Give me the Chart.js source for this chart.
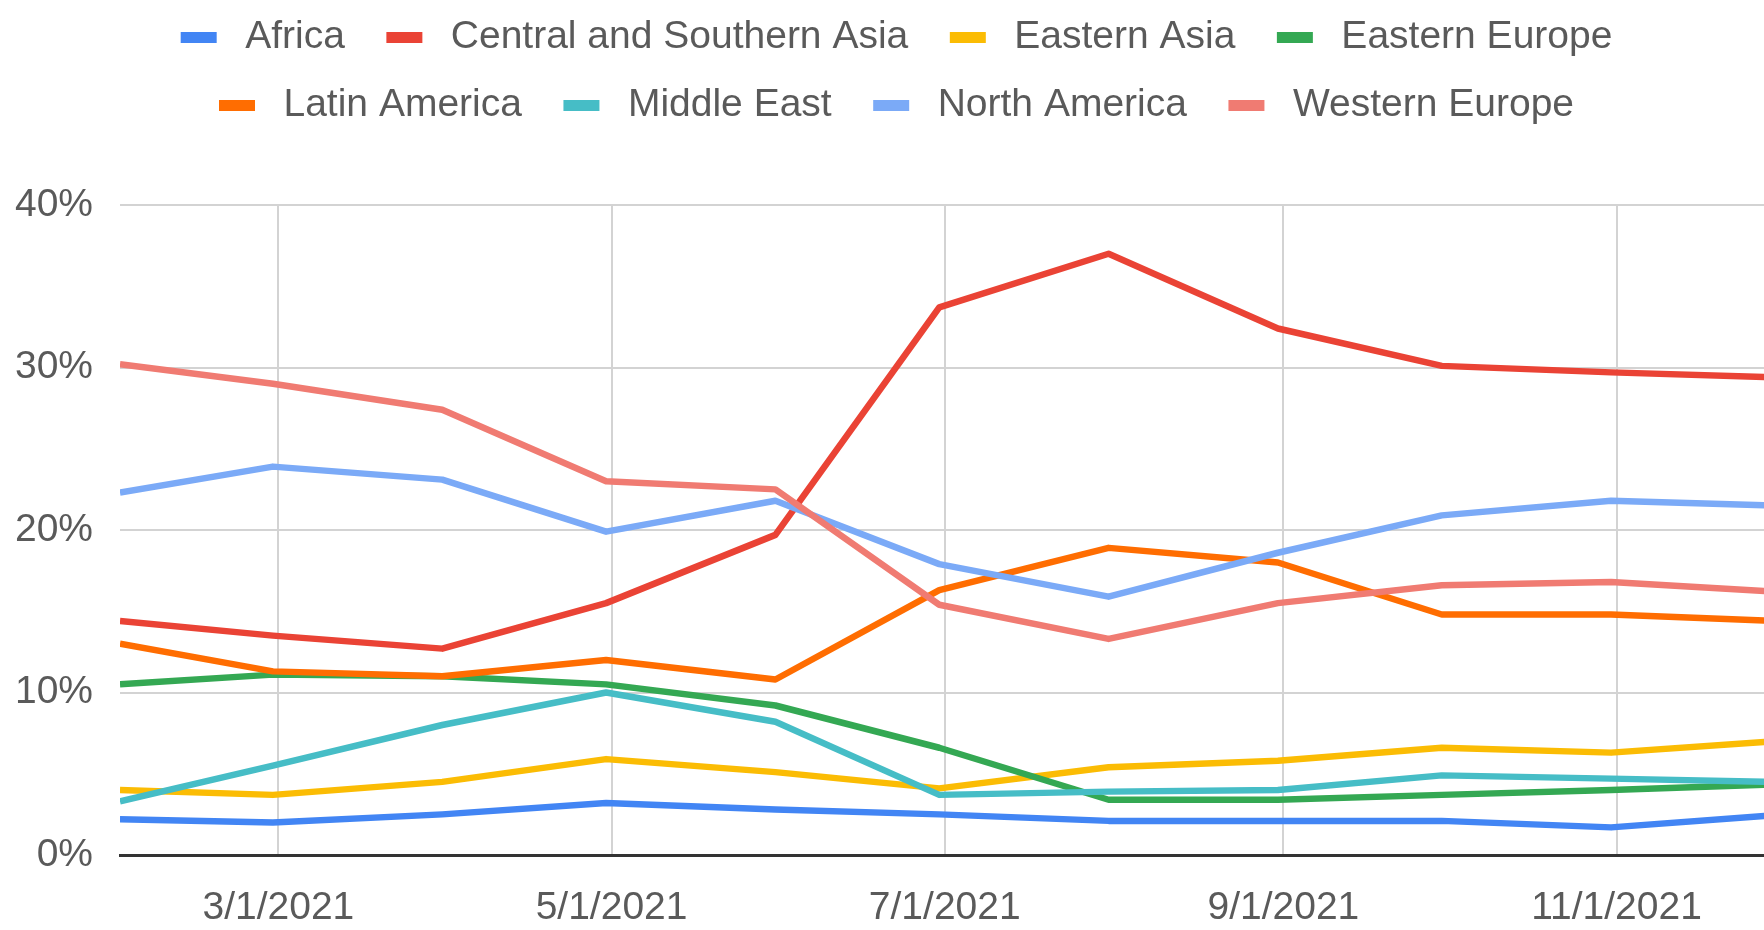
<!DOCTYPE html>
<html>
<head>
<meta charset="utf-8">
<script src="https://cdn.jsdelivr.net/npm/chart.js@4"></script>
<style>
  html, body { margin: 0; padding: 0; background: #fff; overflow: hidden; }
  #wrap { width: 1764px; height: 930px; }
</style>
</head>
<body>
<div id="wrap"><canvas id="regionChart" width="1764" height="930"></canvas></div>
<script>
// Month-end reporting dates (last one sits just past the right edge)
const dates = ['2021-01-31', '2021-02-28', '2021-03-31', '2021-04-30', '2021-05-31', '2021-06-30',
               '2021-07-31', '2021-08-31', '2021-09-30', '2021-10-31', '2021-11-30'];

// Share by region, %
const africa        = [2.2, 2.0, 2.5, 3.2, 2.8, 2.5, 2.1, 2.1, 2.1, 1.7, 2.45];
const centralSouthAsia = [14.4, 13.5, 12.7, 15.5, 19.7, 33.7, 37.0, 32.4, 30.1, 29.7, 29.4];
const easternAsia   = [4.0, 3.7, 4.5, 5.9, 5.1, 4.1, 5.4, 5.8, 6.6, 6.3, 7.0];
const easternEurope = [10.5, 11.1, 11.0, 10.5, 9.2, 6.6, 3.4, 3.4, 3.7, 4.0, 4.35];
const latinAmerica  = [13.0, 11.3, 11.0, 12.0, 10.8, 16.3, 18.9, 18.0, 14.8, 14.8, 14.4];
const middleEast    = [3.3, 5.5, 8.0, 10.0, 8.2, 3.7, 3.9, 4.0, 4.9, 4.7, 4.5];
const northAmerica  = [22.3, 23.9, 23.1, 19.9, 21.8, 17.9, 15.9, 18.6, 20.9, 21.8, 21.5];
const westernEurope = [30.2, 29.0, 27.4, 23.0, 22.5, 15.4, 13.3, 15.5, 16.6, 16.8, 16.2];

// Axis ticks
const xTickDates = ['2021-03-01', '2021-05-01', '2021-07-01', '2021-09-01', '2021-11-01'];
const xMinDate = '2021-01-31';
const xMaxDate = '2021-11-28';
const yTicks = [0, 10, 20, 30, 40];

const toTime = s => Date.parse(s + 'T00:00:00Z');
const fmtDate = v => {
    const d = new Date(v);
    return (d.getUTCMonth() + 1) + '/' + d.getUTCDate() + '/' + d.getUTCFullYear();
};

const series = [
    { label: 'Africa', values: africa, color: '#4285F4' },
    { label: 'Central and Southern Asia', values: centralSouthAsia, color: '#EA4335' },
    { label: 'Eastern Asia', values: easternAsia, color: '#FBBC04' },
    { label: 'Eastern Europe', values: easternEurope, color: '#34A853' },
    { label: 'Latin America', values: latinAmerica, color: '#FF6D01' },
    { label: 'Middle East', values: middleEast, color: '#46BDC6' },
    { label: 'North America', values: northAmerica, color: '#7BAAF7' },
    { label: 'Western Europe', values: westernEurope, color: '#F07B72' }
];

// legend swatch: flat bar with some room on both sides
function swatch(color) {
    const c = document.createElement('canvas');
    c.width = 57;
    c.height = 11;
    const g = c.getContext('2d');
    g.fillStyle = color;
    g.fillRect(12, 0, 36, 11);
    return c;
}

const font = "'Liberation Sans', Arial, sans-serif";
const textColor = '#5a5a5a';

// give the legend a fixed block so the plot starts where it should
const legendSpace = {
    id: 'legendSpace',
    beforeInit(chart) {
        const fit = chart.legend.fit;
        chart.legend.fit = function () {
            fit.call(this);
            this.height = 217;
        };
    }
};

const ctx = document.getElementById('regionChart').getContext('2d');
new Chart(ctx, {
    type: 'line',
    data: {
        datasets: series.map((s, i) => ({
            label: s.label,
            data: s.values.map((v, j) => ({ x: toTime(dates[j]), y: v })),
            borderColor: s.color,
            backgroundColor: s.color,
            borderWidth: 6.5,
            borderJoinStyle: 'round',
            tension: 0,
            pointRadius: 0,
            pointHoverRadius: 0,
            pointStyle: swatch(s.color),
            order: series.length - i
        }))
    },
    options: {
        responsive: false,
        animation: false,
        // negative right padding only nudges the legend; plot still ends at the edge
        layout: { padding: { top: -12, left: 0, right: -17, bottom: 0 } },
        plugins: {
            tooltip: { enabled: false },
            legend: {
                position: 'top',
                align: 'center',
                labels: {
                    usePointStyle: true,
                    pointStyleWidth: 57,
                    padding: 29.5,
                    color: textColor,
                    font: { family: font, size: 39 },
                    sort: (a, b) => a.datasetIndex - b.datasetIndex
                }
            }
        },
        scales: {
            x: {
                type: 'linear',
                min: toTime(xMinDate),
                max: toTime(xMaxDate),
                afterBuildTicks: scale => {
                    scale.ticks = xTickDates.map(d => ({ value: toTime(d) }));
                },
                afterFit: scale => { scale.height = 75; },
                grid: { color: '#d3d3d3', lineWidth: 2, drawTicks: false },
                border: { display: true, color: '#333333', width: 3 },
                ticks: {
                    color: textColor,
                    font: { family: font, size: 39 },
                    padding: 30,
                    maxRotation: 0,
                    autoSkip: false,
                    callback: v => fmtDate(v)
                }
            },
            y: {
                min: 0,
                max: 40,
                afterBuildTicks: scale => {
                    scale.ticks = yTicks.map(v => ({ value: v }));
                },
                afterFit: scale => { scale.width = 120; },
                grid: { color: '#d3d3d3', lineWidth: 2, drawTicks: false },
                border: { display: false },
                ticks: {
                    color: textColor,
                    font: { family: font, size: 39 },
                    padding: 27,
                    callback: v => v + '%'
                }
            }
        }
    },
    plugins: [legendSpace]
});
</script>
</body>
</html>
